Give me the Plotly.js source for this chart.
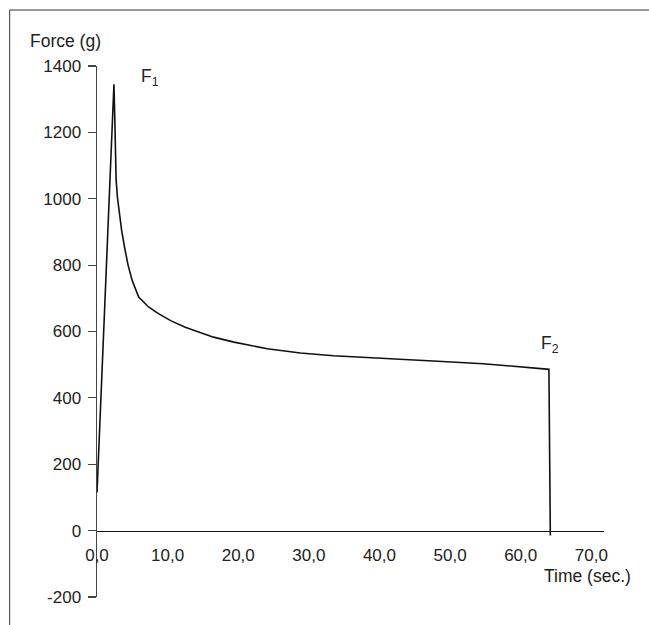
<!DOCTYPE html>
<html>
<head>
<meta charset="utf-8">
<script src="https://cdn.plot.ly/plotly-3.0.1.min.js"></script>
<style>html,body{margin:0;padding:0;background:#fff;}#chart{width:649px;height:625px;}</style>
</head>
<body>
<div id="chart"></div>
<script>
const timeSec = [0, 2.4, 2.5, 2.6, 2.71, 2.9, 3.18, 3.5, 3.89, 4.4, 4.98, 5.9, 7.3, 8.7, 10.5, 12.5, 16.5, 19.4, 24.1, 28.8, 33.5, 40.6, 47.6, 54.7, 64.0, 64.2];
const forceG = [115, 1345, 1260, 1160, 1056, 1003, 956, 903, 855, 800, 754, 704, 674, 654, 632, 613, 583, 568, 548, 535, 527, 518, 511, 503, 486, -15];
const xTickVals = [0, 10, 20, 30, 40, 50, 60, 70];
const xTickText = ['0,0', '10,0', '20,0', '30,0', '40,0', '50,0', '60,0', '70,0'];
const yTickVals = [-200, 0, 200, 400, 600, 800, 1000, 1200, 1400];
const yTickText = ['-200', '0', '200', '400', '600', '800', '1000', '1200', '1400'];
const peakLabels = [{x: 7.5, y: 1366, text: 'F<sub>1</sub>'}, {x: 64.1, y: 561, text: 'F<sub>2</sub>'}];

const fnt = {family: 'Liberation Sans, Arial, sans-serif', size: 17, color: '#222'};
const titleFnt = {family: 'Liberation Sans, Arial, sans-serif', size: 17.5, color: '#222'};
const yMin = -200, yMax = 1400;
const x0Frac = (0 - yMin) / (yMax - yMin);

const trace = {
  x: timeSec, y: forceG, type: 'scatter', mode: 'lines',
  line: {color: '#111', width: 1.6}, hoverinfo: 'skip'
};

const annotations = peakLabels.map(p => ({
  x: p.x, y: p.y, xref: 'x', yref: 'y', text: p.text, showarrow: false,
  font: titleFnt, xanchor: 'center', yanchor: 'middle'
}));
annotations.push({x: -0.137, y: 1.047, xref: 'paper', yref: 'paper', text: 'Force (g)', showarrow: false, font: titleFnt, xanchor: 'left', yanchor: 'middle'});
annotations.push({x: 1.058, y: 0.039, xref: 'paper', yref: 'paper', text: 'Time (sec.)', showarrow: false, font: titleFnt, xanchor: 'right', yanchor: 'middle'});

const layout = {
  width: 649, height: 625,
  margin: {l: 96.5, r: 45, t: 66, b: 28},
  paper_bgcolor: '#fff', plot_bgcolor: '#fff',
  showlegend: false,
  font: fnt,
  xaxis: {
    range: [0, 71.8], anchor: 'free', position: x0Frac,
    showline: true, linecolor: '#111', linewidth: 1.5,
    showgrid: false, zeroline: false,
    tickvals: xTickVals, ticktext: xTickText,
    ticks: 'outside', ticklen: 8, tickcolor: 'rgba(0,0,0,0)',
    tickfont: fnt
  },
  yaxis: {
    range: [yMin, yMax],
    showline: true, linecolor: '#444', linewidth: 1.5,
    showgrid: false, zeroline: false,
    tickvals: yTickVals, ticktext: yTickText,
    ticks: 'outside', ticklen: 8, tickcolor: '#444', tickwidth: 1.2,
    ticklabelstandoff: 3,
    tickfont: fnt
  },
  annotations: annotations,
  shapes: [
    {type: 'line', xref: 'paper', yref: 'paper', x0: -0.1724, x1: 1.1, y0: 1.1055, y1: 1.1055, line: {color: '#777', width: 1.5}},
    {type: 'line', xref: 'paper', yref: 'paper', x0: -0.1724, x1: -0.1724, y0: 1.1055, y1: -0.06, line: {color: '#555', width: 1.2}}
  ]
};

Plotly.newPlot('chart', [trace], layout, {displayModeBar: false, staticPlot: true});
</script>
</body>
</html>
